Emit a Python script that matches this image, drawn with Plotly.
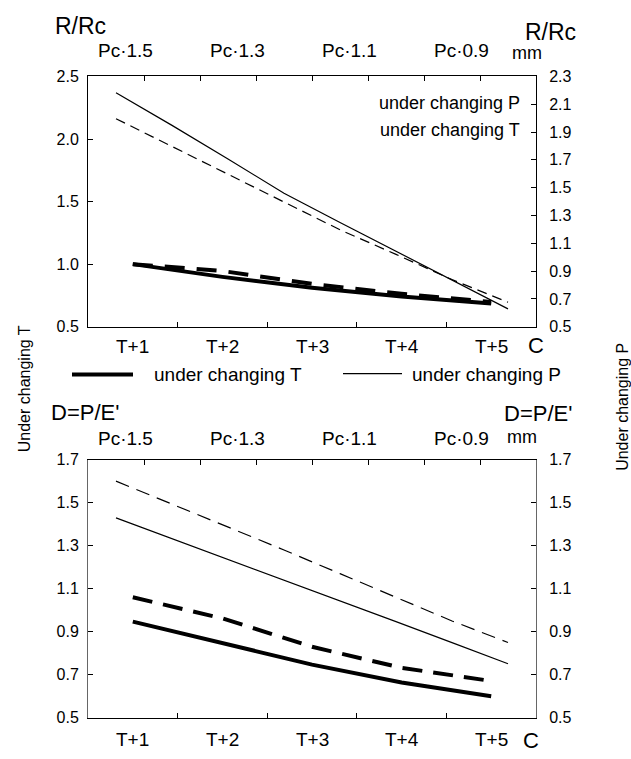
import plotly.graph_objects as go

W, H = 631, 759
FONT = "Liberation Sans, Arial, sans-serif"

# ---------------- data ----------------
t_labels = ["T+1", "T+2", "T+3", "T+4", "T+5"]
t_pos = [1, 2, 3, 4, 5]

pc_values = [1.5, 1.4, 1.3, 1.2, 1.1, 1.0, 0.9, 0.8]
pc_label_vals = [1.5, 1.3, 1.1, 0.9]
pc_label_text = ["Pc·1.5", "Pc·1.3", "Pc·1.1", "Pc·0.9"]

# top panel: R/Rc
rrc_T_solid = [1.00, 0.898, 0.812, 0.742, 0.685]
rrc_T_dash = [1.00, 0.945, 0.842, 0.763, 0.698]
rrc_P_solid = [2.183, 1.948, 1.706, 1.460, 1.250, 1.041, 0.832, 0.628]
rrc_P_dash = [1.996, 1.796, 1.597, 1.395, 1.197, 1.020, 0.839, 0.676]

# bottom panel: D=P/E'
d_T_solid = [0.947, 0.845, 0.747, 0.664, 0.600]
d_T_dash = [1.060, 0.962, 0.830, 0.732, 0.671]
d_P_solid = [1.429, 1.333, 1.236, 1.140, 1.044, 0.947, 0.849, 0.751]
d_P_dash = [1.600, 1.494, 1.386, 1.280, 1.170, 1.061, 0.950, 0.850]

legend_T = "under changing T"
legend_P = "under changing P"


def px(x):
    return x / W


def py(y):
    return 1 - y / H


X_DOM = [px(88), px(536)]
TOP_DOM = [py(326), py(70)]
BOT_DOM = [py(726), py(462)]

fig = go.Figure()

# thick lines (T) on bottom category axis
fig.add_trace(go.Scatter(x=t_pos, y=rrc_T_solid, mode="lines", xaxis="x", yaxis="y",
                         line=dict(color="black", width=4), showlegend=False))
fig.add_trace(go.Scatter(x=t_pos, y=rrc_T_dash, mode="lines", xaxis="x", yaxis="y",
                         line=dict(color="black", width=4, dash="20px,12px"), showlegend=False))
# thin lines (P) on Pc axis / right axis
fig.add_trace(go.Scatter(x=pc_values, y=rrc_P_solid, mode="lines", xaxis="x2", yaxis="y2",
                         line=dict(color="black", width=1.2), showlegend=False))
fig.add_trace(go.Scatter(x=pc_values, y=rrc_P_dash, mode="lines", xaxis="x2", yaxis="y2",
                         line=dict(color="black", width=1.2, dash="10px,6px"), showlegend=False))

fig.add_trace(go.Scatter(x=t_pos, y=d_T_solid, mode="lines", xaxis="x3", yaxis="y3",
                         line=dict(color="black", width=4), showlegend=False))
fig.add_trace(go.Scatter(x=t_pos, y=d_T_dash, mode="lines", xaxis="x3", yaxis="y3",
                         line=dict(color="black", width=4, dash="20px,11px"), showlegend=False))
fig.add_trace(go.Scatter(x=pc_values, y=d_P_solid, mode="lines", xaxis="x4", yaxis="y4",
                         line=dict(color="black", width=1.2), showlegend=False))
fig.add_trace(go.Scatter(x=pc_values, y=d_P_dash, mode="lines", xaxis="x4", yaxis="y4",
                         line=dict(color="black", width=1.2, dash="14px,8px"), showlegend=False))

mid_ticks = [p + 0.5 for p in t_pos[:-1]]
pc_ticks = [round(1.45 - 0.1 * k, 2) for k in range(7)]

base = dict(showline=True, linecolor="black", linewidth=1, showgrid=False, zeroline=False,
            ticks="inside", ticklen=5, tickcolor="black",
            tickfont=dict(family=FONT, size=16, color="black"))


def xbottom(anchor):
    # tick marks between the categories
    return dict(base, domain=X_DOM, anchor=anchor, range=[0.5, 5.5],
                tickmode="array", tickvals=mid_ticks, showticklabels=False)


def xtop(over, anchor):
    return dict(base, overlaying=over, anchor=anchor, side="top", range=[1.55, 0.75],
                tickmode="array", tickvals=pc_ticks, showticklabels=False)


def yleft(dom, anchor, rng, dtick, lc="black"):
    return dict(base, domain=dom, anchor=anchor, range=rng, tick0=0.5, dtick=dtick,
                tickformat=".1f", ticklabelstandoff=5, linecolor=lc)


def yright(over, anchor, rng, lc="black"):
    return dict(base, overlaying=over, anchor=anchor, side="right", range=rng, tick0=0.5,
                dtick=0.2, tickformat=".1f", ticklabelstandoff=9, linecolor=lc)


fig.update_layout(
    width=W, height=H, margin=dict(l=0, r=0, t=0, b=0),
    paper_bgcolor="white", plot_bgcolor="white",
    font=dict(family=FONT, color="black"),
    xaxis=xbottom("y"),
    xaxis2=xtop("x", "y"),
    yaxis=yleft(TOP_DOM, "x", [0.5, 2.5], 0.5),
    yaxis2=yright("y", "x", [0.5, 2.3]),
    xaxis3=xbottom("y3"),
    xaxis4=xtop("x3", "y3"),
    yaxis3=yleft(BOT_DOM, "x3", [0.5, 1.7], 0.2, lc="#666"),
    yaxis4=yright("y3", "x3", [0.5, 1.7], lc="#666"),
)

ann = []


def text(t, x, y, size, xanchor="center", angle=0):
    ann.append(dict(text=t, x=px(x), y=py(y), xref="paper", yref="paper", showarrow=False,
                    xanchor=xanchor, yanchor="middle", textangle=angle,
                    font=dict(family=FONT, size=size, color="black")))


# top panel texts
text("R/Rc", 81, 18.5, 23)
text("R/Rc", 550, 25, 23)
text("mm", 527, 46, 18)
text(legend_P, 522, 97.5, 18, xanchor="right")
text(legend_T, 522, 124.5, 18, xanchor="right")
text("C", 536, 345.5, 22)
# bottom panel texts
text("D=P/E'", 85, 414, 22)
text("D=P/E'", 538, 415, 22)
text("mm", 521.5, 439, 18)
text("C", 531, 749, 22)
# legend
text(legend_T, 152, 375, 19, xanchor="left")
text(legend_P, 410, 375, 19, xanchor="left")
# side labels
text("Under changing T", 24, 390, 16, angle=-90)
text("Under changing P", 623, 408, 16, angle=-90)

# Pc labels on the top axes
for xr, ypix in (("x2", 43.5), ("x4", 440)):
    for v, t in zip(pc_label_vals, pc_label_text):
        ann.append(dict(text=t, x=v, y=py(ypix), xref=xr, yref="paper", showarrow=False,
                        xanchor="center", yanchor="middle", xshift=9,
                        font=dict(family=FONT, size=19, color="black")))

# category labels under the bottom axes
for xr, ypix in (("x", 346.5), ("x3", 748)):
    for v, t in zip(t_pos, t_labels):
        ann.append(dict(text=t, x=v, y=py(ypix), xref=xr, yref="paper", showarrow=False,
                        xanchor="center", yanchor="middle",
                        font=dict(family=FONT, size=19, color="black")))

fig.update_layout(annotations=ann)

# legend swatches
fig.add_shape(type="line", xref="paper", yref="paper", x0=px(72), x1=px(133), y0=py(375), y1=py(375),
              line=dict(color="black", width=4))
fig.add_shape(type="line", xref="paper", yref="paper", x0=px(343), x1=px(402), y0=py(374), y1=py(374),
              line=dict(color="black", width=1.2))

fig.write_html("out.html")
